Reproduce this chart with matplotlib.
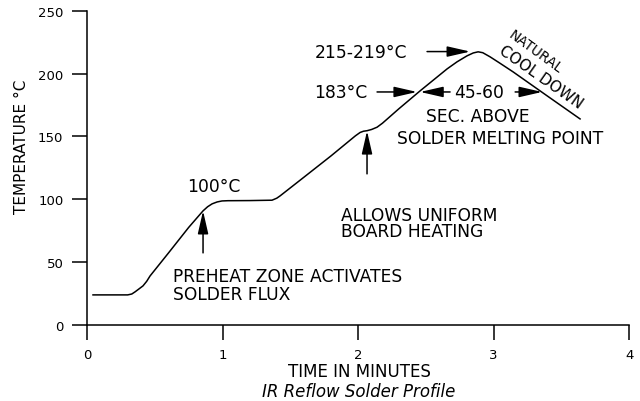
import numpy as np
import matplotlib
matplotlib.use('Agg')
import matplotlib.pyplot as plt

# reflow profile (minutes, deg C)
time_min = [0.044, 0.30, 0.33, 0.354, 0.38, 0.413, 0.44, 0.465, 0.60, 0.75,
            0.856, 0.89, 0.923, 0.96, 0.996, 1.04, 1.20, 1.365, 1.40, 1.424,
            1.45, 1.60, 1.80, 1.98, 2.015, 2.04, 2.066, 2.10, 2.14, 2.18,
            2.30, 2.458, 2.657, 2.73, 2.804, 2.85, 2.886, 2.92, 2.974, 3.04,
            3.144, 3.395, 3.638]
temp_c = [23.7, 23.7, 24.4, 26.1, 28.2, 30.9, 34.5, 38.8, 57.0, 77.5,
          90.7, 94.0, 96.3, 97.8, 98.6, 98.8, 98.9, 99.2, 100.8, 102.6,
          104.8, 117.5, 134.5, 150.5, 153.2, 154.2, 154.6, 155.6, 157.4, 160.6,
          172.0, 186.4, 203.9, 209.5, 214.3, 216.6, 217.5, 216.8, 213.5, 208.9,
          201.5, 182.4, 164.0]

yticks = [0, 50, 100, 150, 200, 250]
xticks = [0, 1, 2, 3, 4]

FONT = 'DejaVu Sans'
plt.rcParams['font.family'] = FONT

fig = plt.figure(figsize=(6.4, 4.02), dpi=100)
ax = fig.add_axes([0.136, 0.19, 0.847, 0.78])

ax.plot(time_min, temp_c, color='black', lw=1.1)

ax.set_xlim(0, 4)
ax.set_ylim(0, 250)
ax.set_xticks(xticks)
ax.set_yticks(yticks)
for s in ['top', 'right']:
    ax.spines[s].set_visible(False)
for s in ['left', 'bottom']:
    ax.spines[s].set_linewidth(1.1)
ax.tick_params(direction='out', length=11, width=1.1, labelsize=9.5, pad=6)

# axis titles
fig.text(22/640, 1 - 147/402, 'TEMPERATURE °C', rotation=90, ha='center', va='center', fontsize=11)
fig.text(0.561, 1 - 372/402, 'TIME IN MINUTES', ha='center', va='center', fontsize=12)
fig.text(0.561, 1 - 392/402, 'IR Reflow Solder Profile', ha='center', va='center',
         fontsize=12, style='italic')

arr = dict(arrowstyle='-|>,head_length=1.4,head_width=0.32', color='black', lw=1.1,
           mutation_scale=10, shrinkA=0, shrinkB=0)

# annotations
fs = 12.3
ax.text(0.937, 110.6, '100°C', ha='center', va='center', fontsize=fs)
ax.annotate('', xy=(0.856, 90.7), xytext=(0.856, 57.2), arrowprops=arr)
ax.text(0.635, 31.7, 'PREHEAT ZONE ACTIVATES\nSOLDER FLUX', ha='left', va='center',
        fontsize=fs, linespacing=1.0)

ax.annotate('', xy=(2.066, 154.4), xytext=(2.066, 120.2), arrowprops=arr)
ax.text(1.875, 81.1, 'ALLOWS UNIFORM\nBOARD HEATING', ha='left', va='center',
        fontsize=fs, linespacing=0.85)

ax.text(2.362, 217.7, '215-219°C', ha='right', va='center', fontsize=fs)
ax.annotate('', xy=(2.827, 217.7), xytext=(2.509, 217.7), arrowprops=arr)

ax.text(2.066, 185.5, '183°C', ha='right', va='center', fontsize=fs)
ax.annotate('', xy=(2.435, 185.5), xytext=(2.140, 185.5), arrowprops=arr)
ax.annotate('', xy=(2.458, 185.5), xytext=(2.679, 185.5), arrowprops=arr)
ax.text(2.893, 185.5, '45-60', ha='center', va='center', fontsize=fs)
ax.annotate('', xy=(3.358, 185.5), xytext=(3.159, 185.5), arrowprops=arr)
ax.text(2.886, 166.4, 'SEC. ABOVE', ha='center', va='center', fontsize=fs)
ax.text(3.048, 148.9, 'SOLDER MELTING POINT', ha='center', va='center', fontsize=fs)

ax.text(3.306, 218.1, 'NATURAL', ha='center', va='center', fontsize=9.8,
        rotation=-36, rotation_mode='anchor')
ax.text(3.347, 197.5, 'COOL DOWN', ha='center', va='center', fontsize=11,
        rotation=-35, rotation_mode='anchor')

fig.savefig('out.png', dpi=100)
